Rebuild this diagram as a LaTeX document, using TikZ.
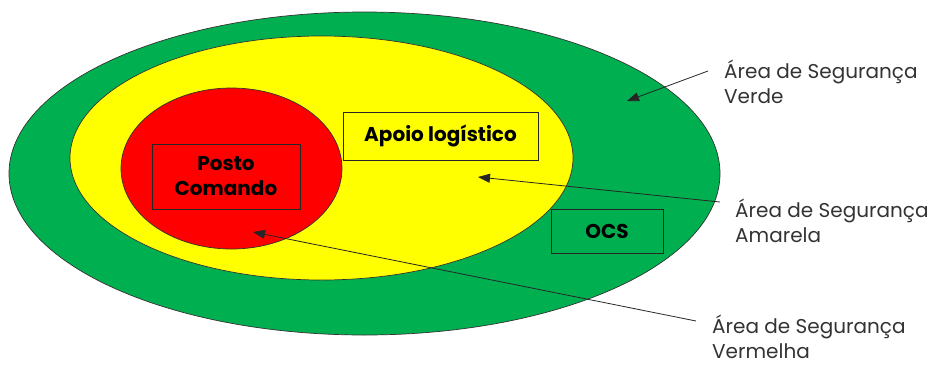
\documentclass[tikz,border=0pt]{standalone}
\usepackage{fontspec}
\setmainfont{Poppins}
\usetikzlibrary{arrows.meta}
\definecolor{verde}{HTML}{00B050}
\definecolor{amarela}{HTML}{FFFF00}
\definecolor{vermelha}{HTML}{FF0000}
\definecolor{contorno}{HTML}{333333}
\tikzset{
  area/.style={draw=contorno, line width=0.7pt},
  caixa/.style={draw=black!85, line width=0.7pt, inner sep=0pt, align=center,
    font=\bfseries\fontsize{20}{25}\selectfont},
  rotulo/.style={anchor=base west, inner sep=0pt, align=left,
    font=\fontsize{20}{25}\selectfont, text=black!80},
  seta/.style={draw=black!85, line width=0.8pt, -{Triangle[length=12pt,width=9pt]}}
}
\begin{document}
\begin{tikzpicture}[x=1pt,y=-1pt]
\useasboundingbox (0,0) rectangle (943,365);
% areas
\draw [area, fill=verde] (364.5,173.5) ellipse [x radius=355.5, y radius=161.5];
\draw [area, fill=amarela] (321.5,158) ellipse [x radius=251.5, y radius=122];
\draw [area, fill=vermelha] (231.5,168.5) ellipse [x radius=110.5, y radius=80.5];
% boxes
\node [caixa, minimum width=148pt, minimum height=65pt] (posto) at (226,176.5) {Posto\\Comando};
\node [caixa, minimum width=195pt, minimum height=48pt] (apoio) at (440.5,136) {Apoio logístico};
\node [caixa, minimum width=112pt, minimum height=44pt] (ocs) at (607,231) {OCS};
% labels (base = last line)
\node [rotulo] (lverde) at (724,103) {Área de Segurança\\Verde};
\node [rotulo] (lamarela) at (735,242) {Área de Segurança\\Amarela};
\node [rotulo] (lvermelha) at (712,358) {Área de Segurança\\Vermelha};
% arrows
\coordinate (cverde) at (708,71);
\coordinate (pverde) at (627,101);
\coordinate (camarela) at (720,202);
\coordinate (pamarela) at (478,177);
\coordinate (cvermelha) at (696,321);
\coordinate (pvermelha) at (253,232);
\draw [seta] (cverde) -- (pverde);
\draw [seta] (camarela) -- (pamarela);
\draw [seta] (cvermelha) -- (pvermelha);
\end{tikzpicture}
\end{document}
